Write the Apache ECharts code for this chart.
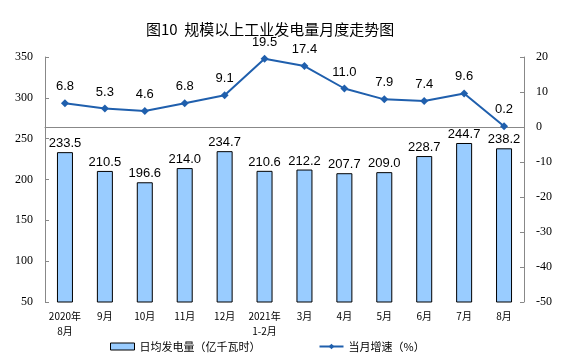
<!DOCTYPE html>
<html><head><meta charset="utf-8">
<script src="https://cdn.jsdelivr.net/npm/echarts@6/dist/echarts.min.js"></script>
<style>html,body{margin:0;padding:0;background:#fff}#c{width:566px;height:362px}</style>
</head><body><div id="c"></div>
<script>
const categories = ['2020年\n8月','9月','10月','11月','12月','2021年\n1-2月','3月','4月','5月','6月','7月','8月'];
const dailyGen = [233.5,210.5,196.6,214.0,234.7,210.6,212.2,207.7,209.0,228.7,244.7,238.2];
const growth = [6.8,5.3,4.6,6.8,9.1,19.5,17.4,11.0,7.9,7.4,9.6,0.2];
const leftTicks = [50,350,50];   // min, max, interval
const rightTicks = [-50,20,10];

const chart = echarts.init(document.getElementById('c'));
chart.setOption({
  animation:false,
  title:{text:'图10  规模以上工业发电量月度走势图',left:141,top:17,
    textStyle:{fontFamily:'Noto Sans CJK SC',fontSize:15,fontWeight:'normal',color:'#000'}},
  grid:{left:45,right:42,top:57,bottom:60},
  legend:{bottom:5,left:105,itemGap:58,
    textStyle:{fontFamily:'Noto Sans CJK SC',fontSize:11,color:'#000'},
    data:[
      {name:'日均发电量（亿千瓦时）',icon:'rect',itemStyle:{color:'#99ccff',borderColor:'#000',borderWidth:1}},
      {name:'当月增速（%）'}
    ],itemWidth:24,itemHeight:7},
  xAxis:{type:'category',data:categories,
    axisLine:{lineStyle:{color:'#888'}},
    axisTick:{inside:true,length:3,lineStyle:{color:'#888'}},
    axisLabel:{interval:0,fontFamily:'Noto Sans CJK SC',fontSize:10,color:'#000',lineHeight:15,margin:7}},
  yAxis:[
    {type:'value',min:leftTicks[0],max:leftTicks[1],interval:leftTicks[2],
      splitLine:{show:false},
      axisLine:{show:true,lineStyle:{color:'#888'}},
      axisTick:{show:true,inside:true,length:4,lineStyle:{color:'#888'}},
      axisLabel:{fontFamily:'Liberation Serif',fontSize:12,color:'#000',margin:12}},
    {type:'value',min:rightTicks[0],max:rightTicks[1],interval:rightTicks[2],
      splitLine:{show:false},
      axisLine:{show:true,lineStyle:{color:'#888'}},
      axisTick:{show:true,inside:true,length:4,lineStyle:{color:'#888'}},
      axisLabel:{fontFamily:'Liberation Serif',fontSize:12,color:'#000',margin:12}}
  ],
  series:[
    {name:'日均发电量（亿千瓦时）',type:'bar',data:dailyGen,barWidth:16,
      itemStyle:{color:'#99ccff',borderColor:'#000',borderWidth:1},
      label:{show:true,position:'top',distance:2,fontFamily:'Liberation Sans',fontSize:13,color:'#000',
        formatter:p=>p.value.toFixed(1)}},
    {name:'当月增速（%）',type:'line',yAxisIndex:1,data:growth,
      symbol:'diamond',symbolSize:8,
      lineStyle:{color:'#1f5fad',width:2},itemStyle:{color:'#1f5fad'},
      label:{show:true,position:'top',distance:6,fontFamily:'Liberation Sans',fontSize:13,color:'#000',
        formatter:p=>p.value.toFixed(1)}}
  ]
});
</script></body></html>
